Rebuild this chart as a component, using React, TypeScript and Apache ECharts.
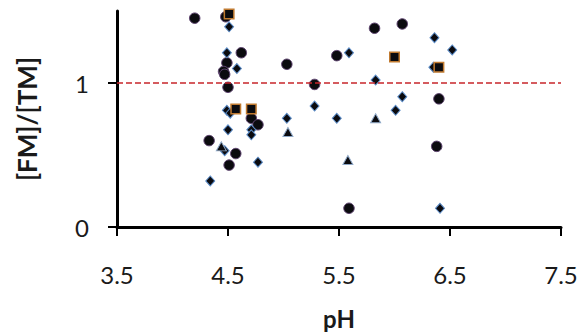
import React, { useEffect, useRef } from "react";
import * as echarts from "echarts";

// [pH, [FM]/[TM]] pairs, one array per marker group
const circlePoints: number[][] = [
  [4.2, 1.45], [4.48, 1.46], [4.62, 1.21], [4.49, 1.14], [4.46, 1.08],
  [4.47, 1.06], [4.5, 0.97], [4.71, 0.755], [4.77, 0.71], [4.33, 0.6],
  [4.57, 0.51], [4.51, 0.43], [5.03, 1.13], [5.28, 0.99], [5.48, 1.19],
  [5.82, 1.38], [6.07, 1.41], [6.4, 0.89], [6.38, 0.56], [5.59, 0.13],
];
const diamondPoints: number[][] = [
  [4.51, 1.39], [4.49, 1.21], [4.58, 1.1], [4.49, 0.81], [4.52, 0.79],
  [4.5, 0.675], [4.71, 0.675], [4.71, 0.64], [4.47, 0.53], [4.77, 0.45],
  [4.34, 0.32], [5.59, 1.21], [5.83, 1.02], [5.28, 0.84], [5.03, 0.755],
  [5.48, 0.755], [6.01, 0.81], [6.36, 1.315], [6.52, 1.23], [6.07, 0.905],
  [6.35, 1.11], [6.41, 0.13],
];
const trianglePoints: number[][] = [
  [4.44, 0.56], [5.04, 0.66], [5.83, 0.755], [5.58, 0.465],
];
const squarePoints: number[][] = [
  [4.51, 1.48], [4.57, 0.82], [4.71, 0.82], [6.0, 1.18], [6.4, 1.11],
];

const xTicks = [3.5, 4.5, 5.5, 6.5, 7.5];
const yTicks = [0, 1];
const referenceRatio = 1;

const FONT = "Lato";

export default function App() {
  const ref = useRef<HTMLDivElement>(null);

  useEffect(() => {
    document.body.style.margin = "0";
    if (!ref.current) return;
    const chart = echarts.init(ref.current, undefined, { renderer: "svg" });

    const scatter = (
      name: string,
      data: number[][],
      symbol: string,
      size: number | number[],
      border: string,
      borderWidth: number,
      z: number
    ) => ({
      name,
      type: "scatter",
      data,
      symbol,
      symbolSize: size,
      z,
      itemStyle: { color: "#0b0b0f", borderColor: border, borderWidth, opacity: 1 },
    });

    chart.setOption({
      animation: false,
      grid: { left: 117, right: 25, top: 11, bottom: 108 },
      xAxis: {
        type: "value",
        min: 3.5,
        max: 7.5,
        name: "pH",
        nameLocation: "middle",
        nameGap: 79,
        nameTextStyle: { fontFamily: FONT, fontWeight: "bold", fontSize: 24, color: "#1a1a1a" },
        axisLine: { onZero: false, lineStyle: { color: "#000", width: 3 } },
        axisTick: { show: true, length: 9, customValues: xTicks, lineStyle: { color: "#000", width: 2 } },
        axisLabel: {
          customValues: xTicks,
          margin: 35,
          fontFamily: FONT,
          fontSize: 24,
          color: "#1a1a1a",
          formatter: (v: number) => v.toFixed(1),
        },
        splitLine: { show: false },
      },
      yAxis: {
        type: "value",
        min: 0,
        max: 1.5,
        name: "[FM]/[TM]",
        nameLocation: "middle",
        nameGap: 77,
        nameTextStyle: { fontFamily: FONT, fontWeight: "bold", fontSize: 26, color: "#1a1a1a" },
        axisLine: { show: true, lineStyle: { color: "#000", width: 3 } },
        axisTick: { show: true, length: 9, customValues: yTicks, lineStyle: { color: "#000", width: 2 } },
        axisLabel: {
          customValues: yTicks,
          margin: 28,
          fontFamily: FONT,
          fontSize: 24,
          color: "#1a1a1a",
        },
        splitLine: { show: false },
      },
      series: [
        {
          ...scatter("circles", circlePoints, "circle", 10.5, "#5e4470", 1, 2),
          markLine: {
            silent: true,
            symbol: "none",
            label: { show: false },
            lineStyle: { color: "#c8262b", type: [6, 3], width: 1.5 },
            data: [{ yAxis: referenceRatio }],
          },
        },
        scatter("diamonds", diamondPoints, "diamond", [9, 10], "#5b8cc8", 1, 3),
        scatter("triangles", trianglePoints, "triangle", [10, 9], "#8fa9c8", 1, 4),
        scatter("squares", squarePoints, "rect", 9.5, "#c07a30", 1.5, 5),
      ],
    });

    return () => chart.dispose();
  }, []);

  return <div ref={ref} style={{ width: 586, height: 335 }} />;
}
